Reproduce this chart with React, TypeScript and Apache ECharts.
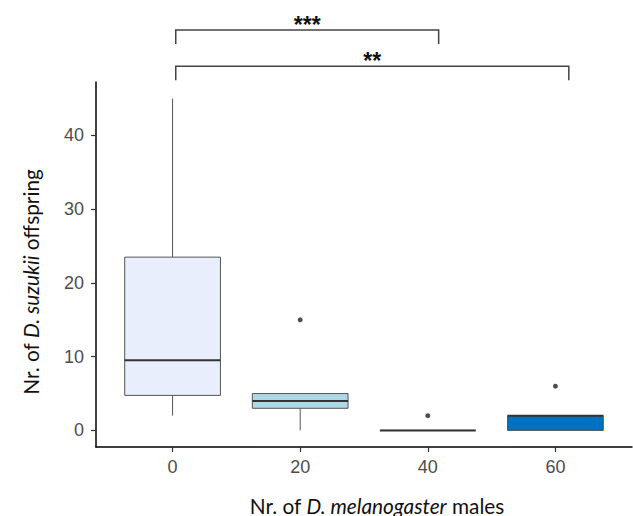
import React, { useEffect, useRef } from "react";
import * as echarts from "echarts";

// ---- data ----
const categories = ["0", "20", "40", "60"];
const xValues = [0, 20, 40, 60];
const lowWhisker = [2, 0, 0, 0];
const q1 = [4.75, 3, 0, 0];
const median = [9.5, 4, 0, 2];
const q3 = [23.5, 5, 0, 2];
const highWhisker = [45, 5, 0, 2];
const outlierX = [20, 40, 60];
const outlierY = [15, 2, 6];
const boxColors = ["#E8EEFC", "#ADD8E6", "#D9D9D9", "#0070C0"];
const yTicks = [0, 10, 20, 30, 40];

// significance brackets (x in data units, y in data units)
const bracketFrom = [0.5, 0.5];
const bracketTo = [41.7, 62.1];
const bracketTop = [54.3, 49.4];
const bracketBottom = [52.4, 47.5];
const bracketLabels = ["***", "**"];

const FONT_TITLE = "Lato, 'Open Sans', sans-serif";
const FONT_TICK = "'Liberation Sans', Arial, sans-serif";

export default function App() {
  const ref = useRef<HTMLDivElement>(null);
  useEffect(() => {
    if (!ref.current) return;
    const chart = echarts.init(ref.current, undefined, { renderer: "svg" });
    const boxData = xValues.map((x, i) => [x, lowWhisker[i], q1[i], median[i], q3[i], highWhisker[i], i]);
    const outlierData = outlierX.map((x, i) => [x, outlierY[i]]);
    chart.setOption({
      animation: false,
      backgroundColor: "#ffffff",
      grid: { left: 96, right: 1, top: 82, bottom: 69 },
      xAxis: {
        type: "value",
        min: -12,
        max: 72,
        axisLine: { onZero: false, lineStyle: { color: "#000", width: 1.5 } },
        splitLine: { show: false },
        axisTick: { customValues: xValues, length: 5, lineStyle: { color: "#333", width: 1.2 } },
        axisLabel: {
          customValues: xValues,
          color: "#4d4d4d",
          fontSize: 18,
          fontFamily: FONT_TICK,
          margin: 11,
          formatter: (v: number) => categories[xValues.indexOf(v)] ?? "",
        },
      },
      yAxis: {
        type: "value",
        min: -2.25,
        max: 47.25,
        axisLine: { show: true, onZero: false, lineStyle: { color: "#000", width: 1.5 } },
        splitLine: { show: false },
        axisTick: { show: true, customValues: yTicks, length: 5, lineStyle: { color: "#333", width: 1.2 } },
        axisLabel: {
          customValues: yTicks,
          color: "#4d4d4d",
          fontSize: 18,
          fontFamily: FONT_TICK,
          margin: 12,
        },
      },
      series: [
        {
          type: "custom",
          data: boxData,
          encode: { x: 0, y: [1, 2, 3, 4, 5] },
          renderItem: (params: any, api: any) => {
            const x = api.value(0);
            const lo = api.coord([x, api.value(1)]);
            const b1 = api.coord([x, api.value(2)]);
            const md = api.coord([x, api.value(3)]);
            const b3 = api.coord([x, api.value(4)]);
            const hi = api.coord([x, api.value(5)]);
            const idx = api.value(6);
            const w = api.size([15, 0])[0];
            const cx = lo[0];
            const left = cx - w / 2;
            const children: any[] = [];
            if (hi[1] < b3[1] - 0.5)
              children.push({ type: "line", shape: { x1: cx, y1: hi[1], x2: cx, y2: b3[1] }, style: { stroke: "#555", lineWidth: 1 } });
            if (lo[1] > b1[1] + 0.5)
              children.push({ type: "line", shape: { x1: cx, y1: b1[1], x2: cx, y2: lo[1] }, style: { stroke: "#555", lineWidth: 1 } });
            children.push({
              type: "rect",
              shape: { x: left, y: b3[1], width: w, height: b1[1] - b3[1] },
              style: { fill: boxColors[idx], stroke: "#555", lineWidth: 1 },
            });
            children.push({ type: "line", shape: { x1: left, y1: md[1], x2: left + w, y2: md[1] }, style: { stroke: "#333", lineWidth: 2 } });
            return { type: "group", children };
          },
          z: 2,
        },
        {
          type: "scatter",
          data: outlierData,
          symbol: "circle",
          symbolSize: 5,
          itemStyle: { color: "#222" },
          z: 3,
        },
      ],
    });

    const graphics: any[] = [];
    bracketLabels.forEach((lab, i) => {
      const pA = chart.convertToPixel({ gridIndex: 0 }, [bracketFrom[i], bracketTop[i]]) as number[];
      const pB = chart.convertToPixel({ gridIndex: 0 }, [bracketTo[i], bracketBottom[i]]) as number[];
      graphics.push({
        type: "polyline",
        shape: { points: [[pA[0], pB[1]], [pA[0], pA[1]], [pB[0], pA[1]], [pB[0], pB[1]]] },
        style: { stroke: "#444", lineWidth: 1.5, fill: "none" },
        z: 10,
      });
      graphics.push({
        type: "text",
        x: (pA[0] + pB[0]) / 2,
        y: pA[1] - 5,
        style: {
          text: lab,
          fontSize: 23,
          fontWeight: "bold",
          fontFamily: FONT_TICK,
          fill: "#111",
          align: "center",
          verticalAlign: "middle",
        },
        z: 10,
      });
    });
    graphics.push({
      type: "text",
      x: 377,
      y: 505,
      style: {
        text: "Nr. of {i|D. melanogaster} males",
        fontSize: 20.8,
        fontFamily: FONT_TITLE,
        fill: "#111",
        align: "center",
        verticalAlign: "middle",
        rich: { i: { fontStyle: "italic", fontSize: 20.8, fontFamily: FONT_TITLE, fill: "#111" } },
      },
    });
    graphics.push({
      type: "text",
      x: 30,
      y: 282,
      rotation: Math.PI / 2,
      style: {
        text: "Nr. of {i|D. suzukii} offspring",
        fontSize: 20.8,
        fontFamily: FONT_TITLE,
        fill: "#111",
        align: "center",
        verticalAlign: "middle",
        rich: { i: { fontStyle: "italic", fontSize: 20.8, fontFamily: FONT_TITLE, fill: "#111" } },
      },
    });
    chart.setOption({ graphic: graphics });
    return () => chart.dispose();
  }, []);
  return <div ref={ref} style={{ position: "fixed", left: 0, top: 0, width: 633, height: 516 }} />;
}
